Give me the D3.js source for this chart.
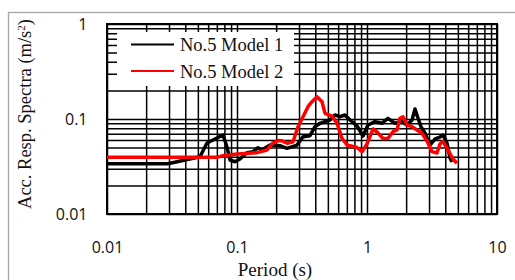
<!DOCTYPE html>
<meta charset="utf-8">
<style>
    body { margin: 0; background: #fff; }
    svg { display: block; }
    .grid line { stroke: #000; stroke-width: 1.5; }
    .grid path { display: none; }
    .axis path { display: none; }
    .axis text { fill: #111; }
    .serif { font-family: "Liberation Serif", "Times New Roman", serif; fill: #111; }
</style>
<svg width="515" height="280"></svg>
<script src="https://cdn.jsdelivr.net/npm/d3@7"></script>
<script>

    // No.5 Model 1 (black)
    var period1 = [0.01, 0.0294, 0.0519, 0.0588, 0.0654, 0.078, 0.0838, 0.0884, 0.0965, 0.1054,
        0.1194, 0.1328, 0.1451, 0.1557, 0.1794, 0.2142, 0.2424, 0.2894, 0.322, 0.3643,
        0.398, 0.435, 0.519, 0.567, 0.62, 0.677, 0.74, 0.838, 0.932, 1.018,
        1.152, 1.304, 1.45, 1.642, 1.858, 2.03, 2.22, 2.34, 2.47, 2.6,
        2.79, 3.05, 3.34, 3.64, 3.84, 4.13, 4.35, 4.51];
    var acc1 = [0.0338, 0.0338, 0.0401, 0.0559, 0.0601, 0.0679, 0.0507, 0.037, 0.0355, 0.0379,
        0.0442, 0.0453, 0.0499, 0.0472, 0.0532, 0.0524, 0.0491, 0.0532, 0.0651, 0.0667,
        0.083, 0.0901, 0.0976, 0.1102, 0.1057, 0.1102, 0.0976, 0.0844, 0.0662, 0.0865,
        0.0937, 0.0901, 0.1017, 0.0901, 0.0937, 0.0865, 0.0976, 0.1274, 0.1017, 0.083,
        0.0712, 0.0532, 0.0616, 0.0646, 0.0679, 0.0555, 0.0389, 0.0353];

    // No.5 Model 2 (red)
    var period2 = [0.01, 0.0702, 0.078, 0.1, 0.1425, 0.17, 0.189, 0.2067, 0.222, 0.2424,
        0.2697, 0.2945, 0.322, 0.3517, 0.3775, 0.4125, 0.4506, 0.4752, 0.538, 0.5876,
        0.642, 0.7016, 0.838, 0.915, 1.0, 1.112, 1.194, 1.328, 1.45, 1.585,
        1.7, 1.794, 1.892, 2.03, 2.22, 2.425, 2.65, 2.894, 3.16, 3.455,
        3.64, 3.84, 4.13, 4.59, 4.92];
    var acc2 = [0.0395, 0.0395, 0.0411, 0.0428, 0.0442, 0.0472, 0.0559, 0.0594, 0.0591, 0.0555,
        0.0577, 0.083, 0.1057, 0.1348, 0.1521, 0.1717, 0.1521, 0.1148, 0.1075, 0.0901,
        0.0626, 0.0532, 0.0501, 0.0453, 0.0546, 0.0785, 0.073, 0.0623, 0.0626, 0.0735,
        0.0766, 0.1017, 0.1057, 0.0865, 0.083, 0.0766, 0.0707, 0.0587, 0.0453, 0.0439,
        0.0546, 0.0577, 0.0491, 0.0379, 0.0342];

    var xTicks = [0.01, 0.1, 1, 10],
        yTicks = [0.01, 0.1, 1],
        seriesNames = ["No.5 Model 1", "No.5 Model 2"],
        seriesColors = ["#000", "#ff0000"];

    var svg = d3.select("svg"),
            margin = {top: 24, right: 18, bottom: 66, left: 107},
            width = +svg.attr("width") - margin.left - margin.right,
            height = +svg.attr("height") - margin.top - margin.bottom;

    // outer chart frame
    svg.append("rect")
            .attr("x", 8.5).attr("y", 12.5)
            .attr("width", 540).attr("height", 300)
            .attr("fill", "none")
            .attr("stroke", "#a6a6a6")
            .attr("stroke-width", 1.3);

    var g = svg.append("g")
            .attr("transform", "translate(" + margin.left + "," + margin.top + ")");

    var x = d3.scaleLog().domain([0.01, 10]).range([0, width]),
        y = d3.scaleLog().domain([0.01, 1]).range([height, 0]);

    // minor grid values 1..9 per decade
    var xGrid = [], yGrid = [];
    [-2, -1, 0].forEach(function(e) {
        for (var k = 1; k < 10; k++) xGrid.push(k * Math.pow(10, e));
    });
    xGrid.push(10);
    [-2, -1].forEach(function(e) {
        for (var k = 1; k < 10; k++) yGrid.push(k * Math.pow(10, e));
    });
    yGrid.push(1);

    g.append("g")
            .attr("class", "grid")
            .attr("transform", "translate(0," + height + ")")
            .call(d3.axisBottom(x).tickValues(xGrid).tickSize(-height).tickFormat(""));

    g.append("g")
            .attr("class", "grid")
            .call(d3.axisLeft(y).tickValues(yGrid).tickSize(-width).tickFormat(""));

    g.append("rect")
            .attr("width", width).attr("height", height)
            .attr("fill", "none")
            .attr("stroke", "#000")
            .attr("stroke-width", 2);

    // legend box (covers grid)
    var legend = g.append("g").attr("transform", "translate(10,8)");
    legend.append("rect")
            .attr("width", 177).attr("height", 54)
            .attr("fill", "#fff");
    seriesNames.forEach(function(name, i) {
        var ly = 12.5 + i * 26.5;
        legend.append("line")
                .attr("x1", 14).attr("x2", 57)
                .attr("y1", ly).attr("y2", ly)
                .attr("stroke", seriesColors[i])
                .attr("stroke-width", 2);
        legend.append("text")
                .attr("class", "serif")
                .attr("x", 63).attr("y", ly + 6.5)
                .attr("font-size", 18.5)
                .text(name);
    });

    var line = d3.line()
            .x(function(d) { return x(d[0]); })
            .y(function(d) { return y(d[1]); });

    [[period1, acc1], [period2, acc2]].forEach(function(s, i) {
        g.append("path")
                .datum(s[0].map(function(p, j) { return [p, s[1][j]]; }))
                .attr("fill", "none")
                .attr("stroke", seriesColors[i])
                .attr("stroke-width", 3.5)
                .attr("stroke-linejoin", "round")
                .attr("d", line);
    });

    var xAxis = g.append("g")
            .attr("class", "axis")
            .attr("transform", "translate(0," + height + ")")
            .call(d3.axisBottom(x).tickValues(xTicks).tickSize(0).tickPadding(28)
                .tickFormat(function(d) { return String(d); }));

    var yAxis = g.append("g")
            .attr("class", "axis")
            .call(d3.axisLeft(y).tickValues(yTicks).tickSize(0).tickPadding(19.5)
                .tickFormat(function(d) { return String(d); }));

    [xAxis, yAxis].forEach(function(a) {
        a.attr("font-family", "'Open Sans', sans-serif").attr("font-size", 16);
    });

    svg.append("text")
            .attr("class", "serif")
            .attr("x", 275).attr("y", 276)
            .attr("text-anchor", "middle")
            .attr("font-size", 19)
            .text("Period (s)");

    var ylab = svg.append("text")
            .attr("class", "serif")
            .attr("transform", "translate(30.5,114) rotate(-90)")
            .attr("text-anchor", "middle")
            .attr("font-size", 18.5)
            .text("Acc. Resp. Spectra (m/s");
    ylab.append("tspan").attr("baseline-shift", "super").attr("font-size", 11).text("2");
    ylab.append("tspan").text(")");
</script>
